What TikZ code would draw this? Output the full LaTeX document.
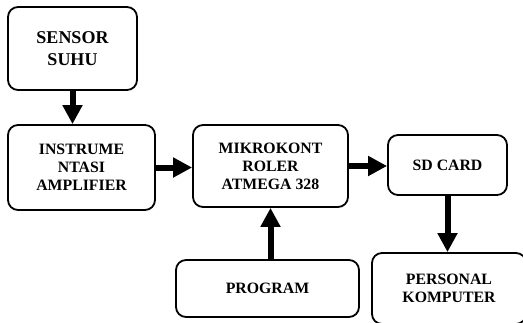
\documentclass[tikz,border=0pt]{standalone}
\usepackage{fontspec}
\setmainfont{Liberation Serif}
\usetikzlibrary{arrows.meta}

\begin{document}
\begin{tikzpicture}[x=1pt,y=-1pt,
    blok/.style={draw,rounded corners=10pt,line width=1.8pt,align=center,inner sep=0pt,
      font=\fontsize{15.8}{18}\selectfont\bfseries},
    panah/.style={-{Triangle[length=19pt,width=19pt]},line width=6pt}]
      \clip (0,0) rectangle (523,322);
      \node[blok,minimum width=129pt,minimum height=83pt,font=\fontsize{18}{21.5}\selectfont\bfseries] (sensor) at (72.5,48.5) {SENSOR\\SUHU};
      \node[blok,minimum width=147pt,minimum height=85pt] (instr) at (81.5,167.5) {INSTRUME\\NTASI\\AMPLIFIER};
      \node[blok,minimum width=155pt,minimum height=82pt] (mikro) at (270.5,166) {MIKROKONT\\ROLER\\ATMEGA 328};
      \node[blok,minimum width=119pt,minimum height=60pt] (sdcard) at (447.5,165) {SD CARD};
      \node[blok,minimum width=154pt,minimum height=71pt] (pc) at (449,288.5) {PERSONAL\\KOMPUTER};
      \node[blok,minimum width=183pt,minimum height=57pt] (program) at (267.5,288.5) {PROGRAM};
      \draw[panah] (sensor.south) -- (sensor.south |- instr.north);
      \draw[panah] (instr.east) -- (instr.east -| mikro.west);
      \draw[panah] (mikro.east) -- (mikro.east -| sdcard.west);
      \draw[panah] (sdcard.south) -- (sdcard.south |- pc.north);
      \draw[panah] ([xshift=3pt]program.north) -- ([xshift=3pt]program.north |- mikro.south);
    \end{tikzpicture}
\end{document}
